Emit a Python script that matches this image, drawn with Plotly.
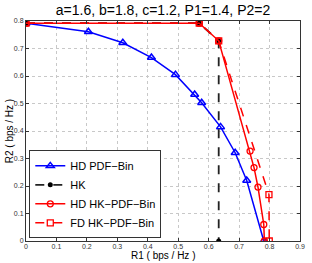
import plotly.graph_objects as go

hd_pdf_x = [0.0, 0.205, 0.318, 0.412, 0.491, 0.554, 0.577, 0.639, 0.687, 0.725, 0.781]
hd_pdf_y = [0.792, 0.761, 0.721, 0.667, 0.605, 0.533, 0.503, 0.415, 0.321, 0.220, 0.0]

hk_x = [0.0, 0.569, 0.633, 0.633]
hk_y = [0.792, 0.792, 0.728, 0.0]

hd_hk_x = [0.0, 0.569, 0.633, 0.736, 0.749, 0.762, 0.781, 0.783]
hd_hk_y = [0.792, 0.792, 0.728, 0.327, 0.267, 0.196, 0.060, 0.0]

fd_hk_x = [0.0, 0.569, 0.633, 0.798, 0.799]
fd_hk_y = [0.792, 0.792, 0.728, 0.169, 0.0]

x_ticks = [0, 0.1, 0.2, 0.3, 0.4, 0.5, 0.6, 0.7, 0.8, 0.9]
x_labels = ["0", "0.1", "0.2", "0.3", "0.4", "0.5", "0.6", "0.7", "0.8", "0.9"]
y_ticks = [0, 0.1, 0.2, 0.3, 0.4, 0.5, 0.6, 0.7, 0.8]
y_labels = ["0", "0.1", "0.2", "0.3", "0.4", "0.5", "0.6", "0.7", "0.8"]

FONT = "Liberation Sans, Arial, Helvetica"

fig = go.Figure()
fig.add_trace(go.Scatter(x=hd_pdf_x, y=hd_pdf_y, mode="lines+markers", name="HD PDF\u2212Bin",
                         line=dict(color="#0000ff", width=1.5),
                         marker=dict(symbol="triangle-up-open", size=7, color="#0000ff", line=dict(width=1.5))))
fig.add_trace(go.Scatter(x=hk_x, y=hk_y, mode="lines+markers", name="HK",
                         line=dict(color="#222222", width=1.8, dash="dash"),
                         marker=dict(symbol="circle", size=5, color="#000000")))
fig.add_trace(go.Scatter(x=hd_hk_x, y=hd_hk_y, mode="lines+markers", name="HD HK\u2212PDF\u2212Bin",
                         line=dict(color="#ff0000", width=1.5),
                         marker=dict(symbol="circle-open", size=6, color="#ff0000", line=dict(width=1.3))))
fig.add_trace(go.Scatter(x=fd_hk_x, y=fd_hk_y, mode="lines+markers", name="FD HK\u2212PDF\u2212Bin",
                         line=dict(color="#ff0000", width=1.5, dash="dash"),
                         marker=dict(symbol="square-open", size=6, color="#ff0000", line=dict(width=1.3))))

axis_common = dict(showgrid=True, gridcolor="#c8c8c8", griddash="dot", gridwidth=1,
                   showline=True, linecolor="#333333", linewidth=1, mirror="ticks",
                   ticks="inside", ticklen=3, tickcolor="#333333",
                   tickfont=dict(size=7, color="#333333", family=FONT),
                   zeroline=False)

fig.update_layout(
    width=312, height=263,
    margin=dict(l=26, r=7, t=21, b=22),
    paper_bgcolor="white", plot_bgcolor="white",
    title=dict(text="a=1.6, b=1.8, c=1.2, P1=1.4, P2=2", xref="paper", x=0.5, xanchor="center",
               y=0.962, yanchor="middle",
               font=dict(size=14, color="#000000", family=FONT)),
    xaxis=dict(range=[0, 0.9], tickvals=x_ticks, ticktext=x_labels, ticklabelstandoff=-1, **axis_common),
    yaxis=dict(range=[0, 0.8], tickvals=y_ticks, ticktext=y_labels, **axis_common),
    legend=dict(x=0.012, y=0.012, xanchor="left", yanchor="bottom",
                bgcolor="white", bordercolor="#333333", borderwidth=1,
                font=dict(size=11, color="#000", family=FONT),
                itemwidth=30, tracegroupgap=0),
    showlegend=True,
    annotations=[
        dict(text="R1 ( bps / Hz )", xref="paper", yref="paper", x=0.5, y=-0.068,
             xanchor="center", yanchor="middle", showarrow=False, borderpad=0,
             font=dict(size=10, color="#000", family=FONT)),
        dict(text="R2 ( bps / Hz )", xref="paper", yref="paper", x=-0.061, y=0.5,
             xanchor="center", yanchor="middle", textangle=-90, showarrow=False, borderpad=0,
             font=dict(size=10, color="#000", family=FONT)),
    ],
)

fig.write_html("out.html", config={"displayModeBar": False},
               post_script="document.body.style.margin='0';document.body.style.overflow='hidden';")
